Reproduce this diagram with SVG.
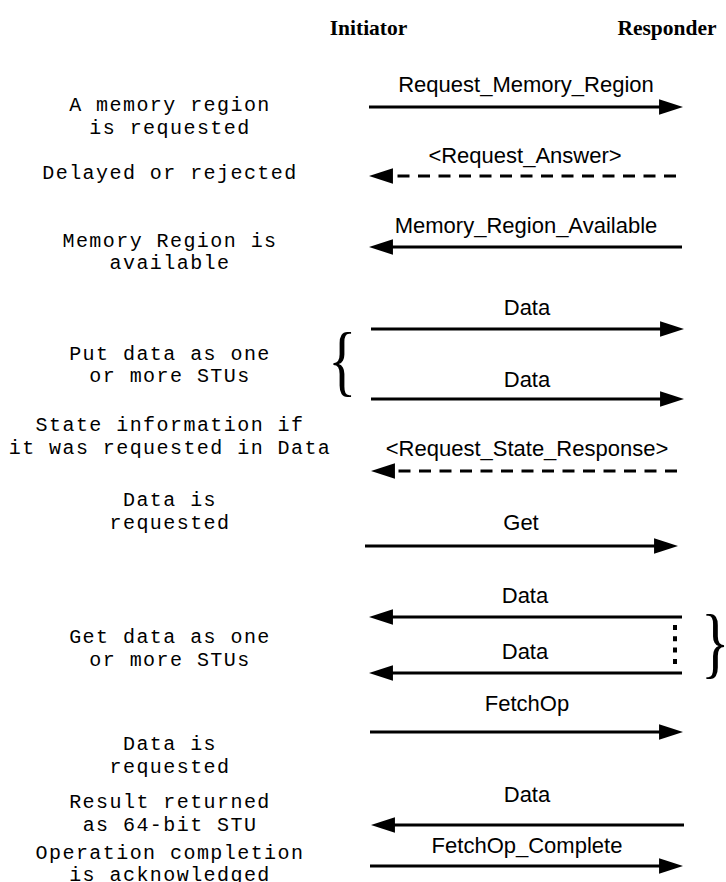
<svg xmlns="http://www.w3.org/2000/svg" width="726" height="882" viewBox="0 0 726 882">
  <style>
    .hdr { font-family: "Liberation Serif", "Times New Roman", serif; font-weight: bold; font-size: 21.5px; fill: #000; text-anchor: middle; }
    .note { font-family: "Liberation Mono", "Courier New", monospace; font-size: 20px; letter-spacing: 1.44px; fill: #000; text-anchor: middle; }
    .msg { font-family: "Liberation Sans", Arial, sans-serif; font-size: 22px; fill: #000; text-anchor: middle; }
    .brace { font-family: "Liberation Serif", "Times New Roman", serif; font-size: 78px; fill: #000; }
    .solid { stroke: #000; stroke-width: 3; fill: none; marker-end: url(#head); }
    .dashed { stroke: #000; stroke-width: 3; fill: none; stroke-dasharray: 12 8.5; marker-end: url(#head); }
    .dots { stroke: #000; stroke-width: 4; fill: none; stroke-dasharray: 5 6.3; }
  </style>
  <defs>
    <marker id="head" markerUnits="userSpaceOnUse" markerWidth="24" markerHeight="16" viewBox="0 0 22 14" refX="10" refY="7" orient="auto">
      <path d="M0,0 L22,7 L0,14 Z" fill="#000"/>
    </marker>
  </defs>
  <rect width="726" height="882" fill="#fff"/>

  <!-- participants -->
  <g id="initiator"><text class="hdr" x="368.5" y="35">Initiator</text></g>
  <g id="responder"><text class="hdr" x="667" y="35">Responder</text></g>

  <!-- step descriptions -->
  <g id="note-request">
    <text class="note" x="170" y="111">A memory region</text>
    <text class="note" x="170" y="133.5">is requested</text>
  </g>
  <g id="note-delayed">
    <text class="note" x="170" y="179">Delayed or rejected</text>
  </g>
  <g id="note-available">
    <text class="note" x="170" y="246.5">Memory Region is</text>
    <text class="note" x="170" y="268.5">available</text>
  </g>
  <g id="note-put">
    <text class="note" x="170" y="359.5">Put data as one</text>
    <text class="note" x="170" y="382">or more STUs</text>
  </g>
  <g id="note-state">
    <text class="note" x="170" y="430.5">State information if</text>
    <text class="note" x="170" y="453.5">it was requested in Data</text>
  </g>
  <g id="note-get-request">
    <text class="note" x="170" y="506">Data is</text>
    <text class="note" x="170" y="529">requested</text>
  </g>
  <g id="note-get">
    <text class="note" x="170" y="643">Get data as one</text>
    <text class="note" x="170" y="666">or more STUs</text>
  </g>
  <g id="note-fetch-request">
    <text class="note" x="170" y="750">Data is</text>
    <text class="note" x="170" y="773">requested</text>
  </g>
  <g id="note-result">
    <text class="note" x="170" y="808">Result returned</text>
    <text class="note" x="170" y="831">as 64-bit STU</text>
  </g>
  <g id="note-complete">
    <text class="note" x="170" y="859">Operation completion</text>
    <text class="note" x="170" y="881">is acknowledged</text>
  </g>

  <!-- grouping braces -->
  <g id="brace-put"><text class="brace" transform="translate(328 387) scale(0.76 1)">{</text></g>
  <g id="brace-get"><text class="brace" transform="translate(701 669) scale(0.76 1)">}</text></g>

  <!-- messages -->
  <g id="connectors">
    <line class="solid" x1="369" y1="107" x2="670" y2="107"/>
    <text class="msg" x="526" y="92">Request_Memory_Region</text>

    <line class="dashed" x1="676" y1="176" x2="382" y2="176"/>
    <text class="msg" x="525" y="163">&lt;Request_Answer&gt;</text>

    <line class="solid" x1="682" y1="247" x2="382" y2="247"/>
    <text class="msg" x="526" y="233">Memory_Region_Available</text>

    <line class="solid" x1="371" y1="329" x2="671" y2="329"/>
    <text class="msg" x="527" y="315">Data</text>

    <line class="solid" x1="371" y1="399" x2="671" y2="399"/>
    <text class="msg" x="527" y="387">Data</text>

    <line class="dashed" x1="677" y1="471" x2="384" y2="471"/>
    <text class="msg" x="527" y="456">&lt;Request_State_Response&gt;</text>

    <line class="solid" x1="365" y1="546" x2="665" y2="546"/>
    <text class="msg" x="521" y="530">Get</text>

    <line class="solid" x1="682" y1="617" x2="382" y2="617"/>
    <text class="msg" x="525" y="603">Data</text>

    <line class="solid" x1="682" y1="673" x2="382" y2="673"/>
    <text class="msg" x="525" y="659">Data</text>
    <line class="dots" x1="675" y1="625" x2="675" y2="665"/>

    <line class="solid" x1="370" y1="732" x2="670" y2="732"/>
    <text class="msg" x="527" y="711">FetchOp</text>

    <line class="solid" x1="684" y1="825" x2="384" y2="825"/>
    <text class="msg" x="527" y="802">Data</text>

    <line class="solid" x1="370" y1="866" x2="670" y2="866"/>
    <text class="msg" x="527" y="853">FetchOp_Complete</text>
  </g>
</svg>
